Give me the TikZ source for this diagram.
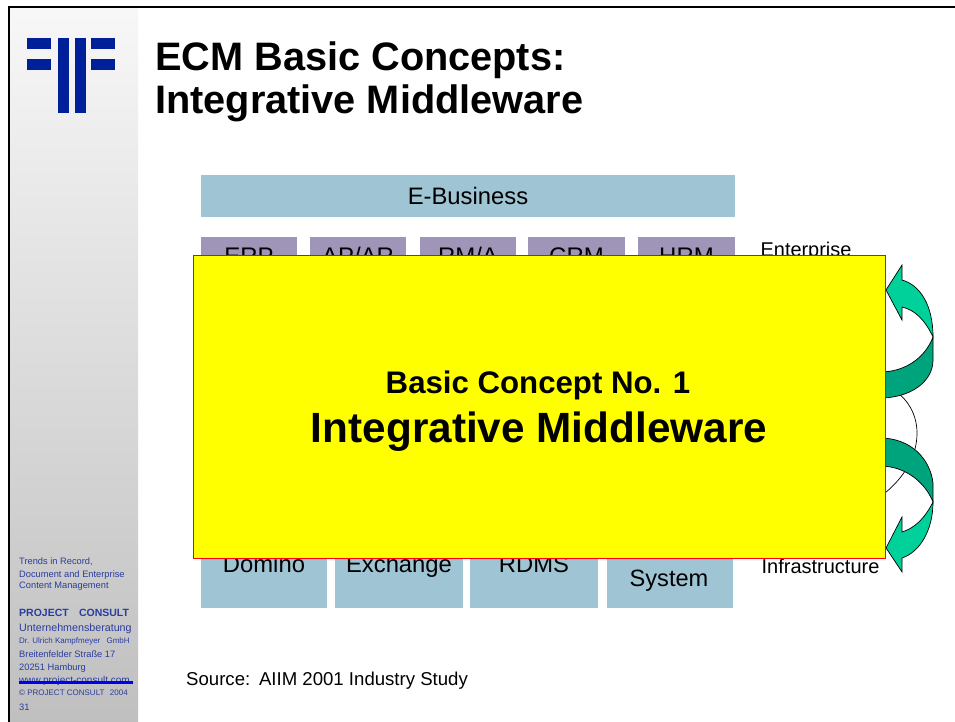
\documentclass[tikz,border=0pt]{standalone}
\usepackage{fontspec}
\setmainfont{Liberation Sans}
\usepackage{xcolor}
\definecolor{logoblue}{HTML}{00209A}
\definecolor{sideblue}{HTML}{2A3C9E}
\definecolor{linkblue}{HTML}{0000F0}
\definecolor{topbox}{HTML}{9F95B8}
\definecolor{lowbox}{HTML}{9FC4D3}
\definecolor{arrowlight}{HTML}{00D19A}
\definecolor{arrowdark}{HTML}{00A47C}
\definecolor{conceptfill}{HTML}{FFFF00}
\definecolor{conceptline}{HTML}{FF0000}
\tikzset{
	appbox/.style = {fill = topbox, minimum height = 38pt, inner sep = 0pt, text depth = 0pt, font = \fontsize{24}{24}\selectfont},
	basebox/.style = {fill = lowbox, minimum height = 88pt, inner sep = 0pt, text depth = 0pt, font = \fontsize{23.8}{24}\selectfont},
	sidetext/.style = {anchor = base west, inner sep = 0pt, text = sideblue, font = \fontsize{#1}{#1}\selectfont},
	sidetext/.default = 9.3,
	plaintext/.style = {inner sep = 0pt, font = \fontsize{#1}{#1}\selectfont},
	titletext/.style = {anchor = base west, inner sep = 0pt, font = \fontsize{39.7}{40}\selectfont\bfseries},
	logobar/.style = {fill = logoblue},
	curl/.style = {draw = black, line width = 0.7pt}
}
\begin{document}
\begin{tikzpicture}[x = 1pt, y = -1pt]
		\useasboundingbox (0,0) rectangle (955,722);
		\fill[white] (0,0) rectangle (955,722);
		\shade[top color = white!97!black, bottom color = white!75!black] (10,8) rectangle (138,722);
		\fill[black] (8,6) rectangle (955,8);
		\fill[black] (8,6) rectangle (10,722);

		\fill[logobar] (27,38) rectangle (51,49);
		\fill[logobar] (27,59) rectangle (51,70);
		\fill[logobar] (58,38) rectangle (69,113);
		\fill[logobar] (75,38) rectangle (86,113);
		\fill[logobar] (91,38) rectangle (115,49);
		\fill[logobar] (91,59) rectangle (115,70);

		\node[titletext] (title1) at (155,71) {ECM Basic Concepts:};
		\node[titletext] (title2) at (155,114) {Integrative Middleware};

		\node[sidetext] (side1) at (19,564) {Trends in Record,};
		\node[sidetext] (side2) at (19,577) {Document and Enterprise};
		\node[sidetext] (side3) at (19,588) {Content Management};
		\node[sidetext = 10.5] (side4) at (19,616) {\bfseries PROJECT\hspace{0.7em} CONSULT};
		\node[sidetext = 10.7] (side5) at (19,631) {Unternehmensberatung};
		\node[sidetext = 8] (side6) at (19,643) {Dr. Ulrich Kampfmeyer\hspace{0.5em} GmbH};
		\node[sidetext] (side7) at (19,657) {Breitenfelder Straße 17};
		\node[sidetext] (side8) at (19,670) {20251 Hamburg};
		\node[sidetext = 10] (side9) at (19,683) {www.project-consult.com};
		\node[sidetext = 8] (side10) at (19,695) {© PROJECT CONSULT\hspace{0.4em} 2004};
		\node[sidetext] (side11) at (19,710) {31};
		\fill[linkblue] (19,681) rectangle (133,684);

		\node[fill = lowbox, minimum width = 534pt, minimum height = 42pt, inner sep = 0pt, font = \fontsize{23.8}{24}\selectfont] (ebusiness) at (468,196) {E-Business};

		\node[appbox, minimum width = 96pt] (erp) at (249,256) {ERP};
		\node[appbox, minimum width = 96pt] (apar) at (358,256) {AP/AR};
		\node[appbox, minimum width = 96pt] (rma) at (468,256) {RM/A};
		\node[appbox, minimum width = 97pt] (crm) at (576.5,256) {CRM};
		\node[appbox, minimum width = 97pt] (hrm) at (686.5,256) {HRM};
		\node[plaintext = 19.9] (enterprise) at (806,251) {Enterprise};

		\node[basebox, minimum width = 126pt] (domino) at (264,564) {Domino};
		\node[basebox, minimum width = 128pt] (exchange) at (399,564) {Exchange};
		\node[basebox, minimum width = 128pt] (rdms) at (534,564) {RDMS};
		\node[basebox, minimum width = 126pt] (system) at (670,564) {};
		\node[plaintext = 23.6, text depth = 0pt] (systemtext) at (669,578) {System};
		\node[plaintext = 20] (infrastructure) at (820.5,566) {Infrastructure};
		\node[anchor = base west, plaintext = 18.6] (source) at (186,685) {Source:\hspace{0.1em} AIIM 2001 Industry Study};

		\draw[line width = 0.7pt] (880,383) .. controls (905,392) and (917,412) .. (917,433) .. controls (917,456) and (905,478) .. (880,497);

		\filldraw[curl, fill = arrowdark] (880,372) .. controls (905,372) and (925,358) .. (933,337) -- (933,360) .. controls (933,382) and (910,398) .. (880,398) -- cycle;
		\filldraw[curl, fill = arrowlight] (886,290) -- (902,265) -- (902,280) .. controls (920,285) and (933,305) .. (933,337) .. controls (925,320) and (915,310) .. (902,307) -- (902,320) -- cycle;
		\filldraw[curl, fill = arrowdark] (880,466) .. controls (905,466) and (925,482) .. (933,502) -- (933,483) .. controls (930,458) and (910,438) .. (880,438) -- cycle;
		\filldraw[curl, fill = arrowlight] (886,548) -- (902,517) -- (902,532) .. controls (915,528) and (925,518) .. (933,502) .. controls (933,530) and (920,552) .. (902,558) -- (902,572) -- cycle;

		\node[draw = conceptline, line width = 1.4pt, fill = conceptfill, minimum width = 692pt, minimum height = 303pt, inner sep = 0pt] (concept) at (539.5,407) {};
		\node[anchor = base, inner sep = 0pt, font = \fontsize{31.2}{32}\selectfont\bfseries] (conceptno) at (538,393) {Basic Concept No. 1};
		\node[anchor = base, inner sep = 0pt, font = \fontsize{42.3}{43}\selectfont\bfseries] (conceptname) at (539,442) {Integrative Middleware};
	\end{tikzpicture}
\end{document}
